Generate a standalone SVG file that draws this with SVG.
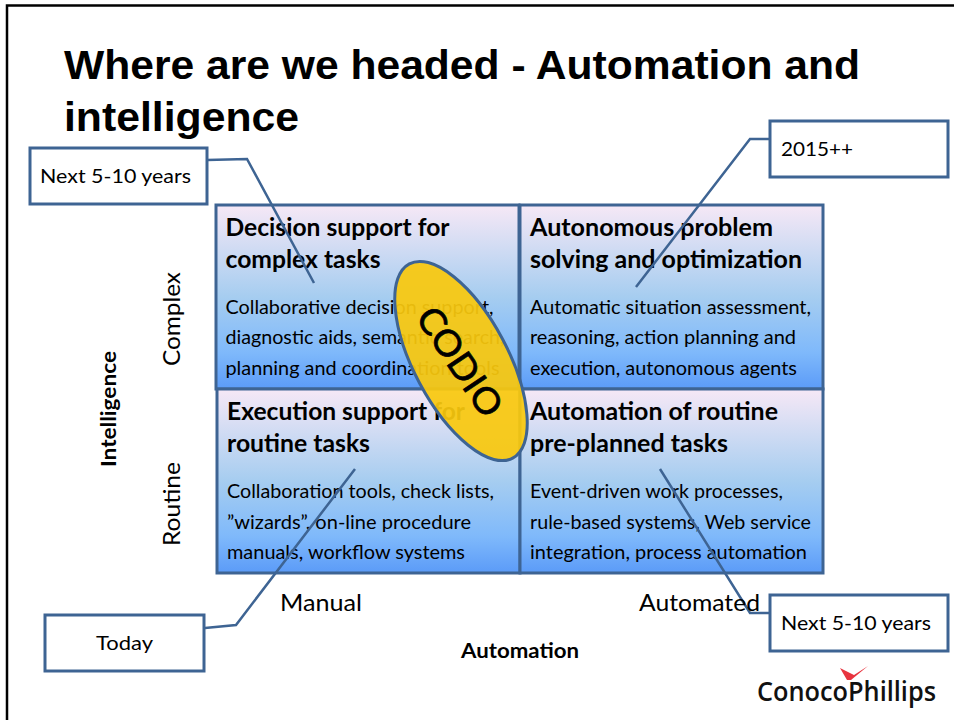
<svg xmlns="http://www.w3.org/2000/svg" width="954" height="720" viewBox="0 0 954 720">
<style>
.c{font-family:Lato,"Open Sans","Liberation Sans",sans-serif;fill:#000}
.h{font-size:24px;font-weight:700}
.b{font-size:20px}
.l{font-size:24px}
.a{font-size:20px;font-weight:700}
.t{font-family:"Liberation Sans",Arial,sans-serif;font-size:41px;font-weight:700;fill:#000}
.cell{fill:url(#g);stroke:#3e6493;stroke-width:3}
.box{fill:#fff;stroke:#3e6493;stroke-width:3}
.ln{fill:none;stroke:#3e6493;stroke-width:2.5}
</style>
<defs>
<linearGradient id="g" x1="0" y1="0" x2="0" y2="1">
<stop offset="0" stop-color="#f6e8f6"/>
<stop offset="0.5" stop-color="#a6cdf0"/>
<stop offset="0.8" stop-color="#7fb9fb"/>
<stop offset="1" stop-color="#5b9bf8"/>
</linearGradient>
</defs>
<rect width="954" height="720" fill="#fff"/>
<path d="M7 720V5.500H954" fill="none" stroke="#000" stroke-width="2.500"/>
<text class="t" x="64" y="79" textLength="796" lengthAdjust="spacingAndGlyphs">Where are we headed - Automation and</text>
<text class="t" x="64" y="131" textLength="235" lengthAdjust="spacingAndGlyphs">intelligence</text>

<g id="cell-decision">
<rect class="cell" x="216" y="205" width="303" height="184"/>
<text class="c h" x="225.500" y="236" textLength="224" lengthAdjust="spacingAndGlyphs">Decision support for</text>
<text class="c h" x="225.500" y="268" textLength="155" lengthAdjust="spacingAndGlyphs">complex tasks</text>
<text class="c b" x="225.500" y="314" textLength="268" lengthAdjust="spacingAndGlyphs">Collaborative decision support,</text>
<text class="c b" x="225.500" y="344" textLength="279" lengthAdjust="spacingAndGlyphs">diagnostic aids, semantic search,</text>
<text class="c b" x="225.500" y="375" textLength="274" lengthAdjust="spacingAndGlyphs">planning and coordination tools</text>
</g>
<g id="cell-autonomous">
<rect class="cell" x="520" y="205" width="303" height="184"/>
<text class="c h" x="530" y="236" textLength="243" lengthAdjust="spacingAndGlyphs">Autonomous problem</text>
<text class="c h" x="530" y="268" textLength="272" lengthAdjust="spacingAndGlyphs">solving and optimization</text>
<text class="c b" x="530" y="314" textLength="281" lengthAdjust="spacingAndGlyphs">Automatic situation assessment,</text>
<text class="c b" x="530" y="344" textLength="266" lengthAdjust="spacingAndGlyphs">reasoning, action planning and</text>
<text class="c b" x="530" y="375" textLength="267" lengthAdjust="spacingAndGlyphs">execution, autonomous agents</text>
</g>
<g id="cell-execution">
<rect class="cell" x="217" y="389" width="303" height="184"/>
<text class="c h" x="227" y="420" textLength="238" lengthAdjust="spacingAndGlyphs">Execution support for</text>
<text class="c h" x="227" y="452" textLength="143" lengthAdjust="spacingAndGlyphs">routine tasks</text>
<text class="c b" x="227" y="498" textLength="267" lengthAdjust="spacingAndGlyphs">Collaboration tools, check lists,</text>
<text class="c b" x="227" y="529" textLength="244" lengthAdjust="spacingAndGlyphs">”wizards”, on-line procedure</text>
<text class="c b" x="227" y="559" textLength="238" lengthAdjust="spacingAndGlyphs">manuals, workflow systems</text>
</g>
<g id="cell-routine">
<rect class="cell" x="520" y="389" width="303" height="184"/>
<text class="c h" x="530" y="420" textLength="248" lengthAdjust="spacingAndGlyphs">Automation of routine</text>
<text class="c h" x="530" y="452" textLength="198" lengthAdjust="spacingAndGlyphs">pre-planned tasks</text>
<text class="c b" x="530" y="498" textLength="253" lengthAdjust="spacingAndGlyphs">Event-driven work processes,</text>
<text class="c b" x="530" y="529" textLength="281" lengthAdjust="spacingAndGlyphs">rule-based systems, Web service</text>
<text class="c b" x="530" y="559" textLength="277" lengthAdjust="spacingAndGlyphs">integration, process automation</text>
</g>

<g id="connectors">
<path class="ln" d="M207 160L247 159L314 283"/>
<path class="ln" d="M770 139H750L636 287"/>
<path class="ln" d="M205 628L236 625L355 469"/>
<path class="ln" d="M770 613H750L660 469"/>
</g>

<g id="codio">
<ellipse cx="461" cy="361" rx="110" ry="47" transform="rotate(62 461 361)" fill="#f9c80e" fill-opacity=".93" stroke="#3e6493" stroke-width="3"/>
<text class="c" x="461" y="361" font-size="36" font-weight="400" stroke="#000" stroke-width=".7" text-anchor="middle" dominant-baseline="central" textLength="124" lengthAdjust="spacingAndGlyphs" transform="rotate(56 461 361)">CODIO</text>
</g>

<g id="axis-labels">
<text class="c l" x="0" y="0" transform="translate(180 366) rotate(-90)" textLength="94" lengthAdjust="spacingAndGlyphs">Complex</text>
<text class="c l" x="0" y="0" transform="translate(180 546) rotate(-90)" textLength="84" lengthAdjust="spacingAndGlyphs">Routine</text>
<text class="c a" x="0" y="0" transform="translate(116 467) rotate(-90)" textLength="116" lengthAdjust="spacingAndGlyphs">Intelligence</text>
<text class="c l" x="280" y="611" textLength="82" lengthAdjust="spacingAndGlyphs">Manual</text>
<text class="c l" x="639" y="611" textLength="121" lengthAdjust="spacingAndGlyphs">Automated</text>
<text class="c a" x="461" y="658" textLength="118" lengthAdjust="spacingAndGlyphs">Automation</text>
</g>

<g id="callout-next-left">
<rect class="box" x="30" y="148" width="177" height="56"/>
<text class="c b" x="40" y="183" textLength="151" lengthAdjust="spacingAndGlyphs">Next 5-10 years</text>
</g>
<g id="callout-2015">
<rect class="box" x="770" y="121" width="178" height="56"/>
<text class="c b" x="781" y="156" textLength="72" lengthAdjust="spacingAndGlyphs">2015++</text>
</g>
<g id="callout-today">
<rect class="box" x="45" y="615" width="159" height="56"/>
<text class="c b" x="96" y="650" textLength="57" lengthAdjust="spacingAndGlyphs">Today</text>
</g>
<g id="callout-next-right">
<rect class="box" x="770" y="595" width="178" height="56"/>
<text class="c b" x="781" y="630" textLength="150" lengthAdjust="spacingAndGlyphs">Next 5-10 years</text>
</g>

<g id="logo">
<path d="M840 668L854 675L868 666L851 680L847 680Z" fill="#e8343f"/>
<text x="757" y="701" font-family="'Open Sans','Liberation Sans',sans-serif" font-size="27" font-weight="600" fill="#111" textLength="179" lengthAdjust="spacingAndGlyphs">ConocoPhillips</text>
</g>
</svg>
